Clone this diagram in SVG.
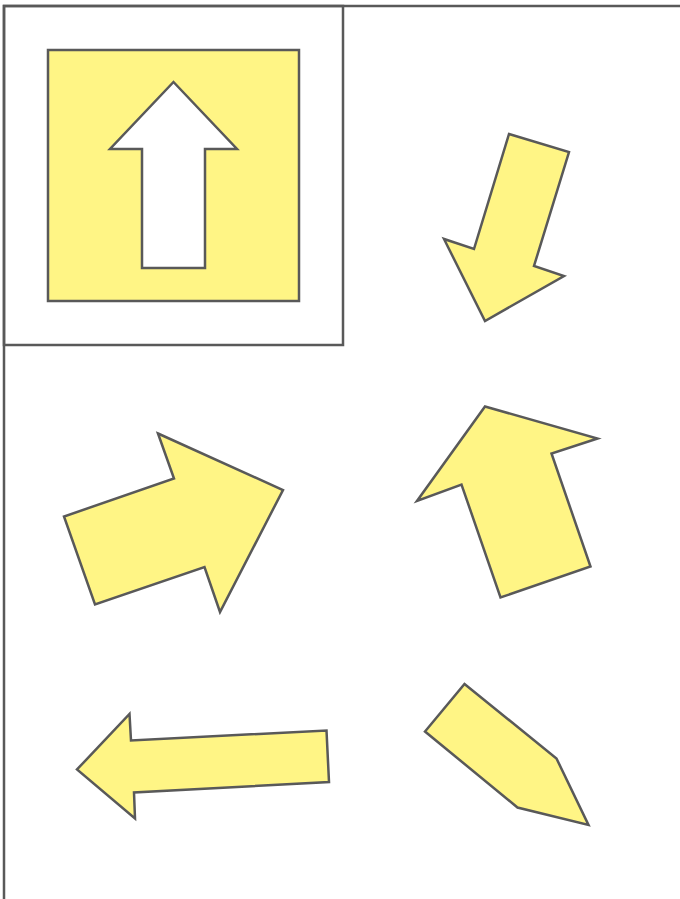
<svg xmlns="http://www.w3.org/2000/svg" width="680" height="899" viewBox="0 0 680 899">
<style>
.ln{fill:none;stroke:#595959;stroke-width:2.5}
.ar{fill:#fff585;stroke:#595959;stroke-width:2.5;stroke-linejoin:miter}
.wh{fill:#ffffff;stroke:#595959;stroke-width:2.5}
</style>
<rect width="680" height="899" fill="#ffffff"/>
<g id="frame">
<polyline class="ln" points="4,899 4,6 680,6"/>
<rect class="ln" x="4" y="6" width="339" height="339"/>
</g>
<g id="icon">
<rect class="ar" x="48" y="50" width="251" height="251"/>
<polygon class="wh" points="173.5,82 237,149 205,149 205,268 142,268 142,149 110,149"/>
</g>
<g id="arrow-down">
<polygon class="ar" points="509,134 569,152 534,266 564,276 485,321 444,239 474,249"/>
</g>
<g id="arrow-right">
<polygon class="ar" points="158,433.5 283,490 220,612 204.5,567 95,604.5 64,516.5 174,478.5"/>
</g>
<g id="arrow-up">
<polygon class="ar" points="485,406.5 597.5,438.5 551.5,453.5 590.5,566.5 500.5,597.5 461.5,484.5 417,501"/>
</g>
<g id="arrow-left">
<polygon class="ar" points="129.5,714 131,740.5 326.5,730.5 329,782 134,792.5 135,818.5 77,769.5"/>
</g>
<g id="pentagon">
<polygon class="ar" points="464.5,684 556.5,758.5 588.5,825 517.5,807.5 425,731.5"/>
</g>
</svg>
